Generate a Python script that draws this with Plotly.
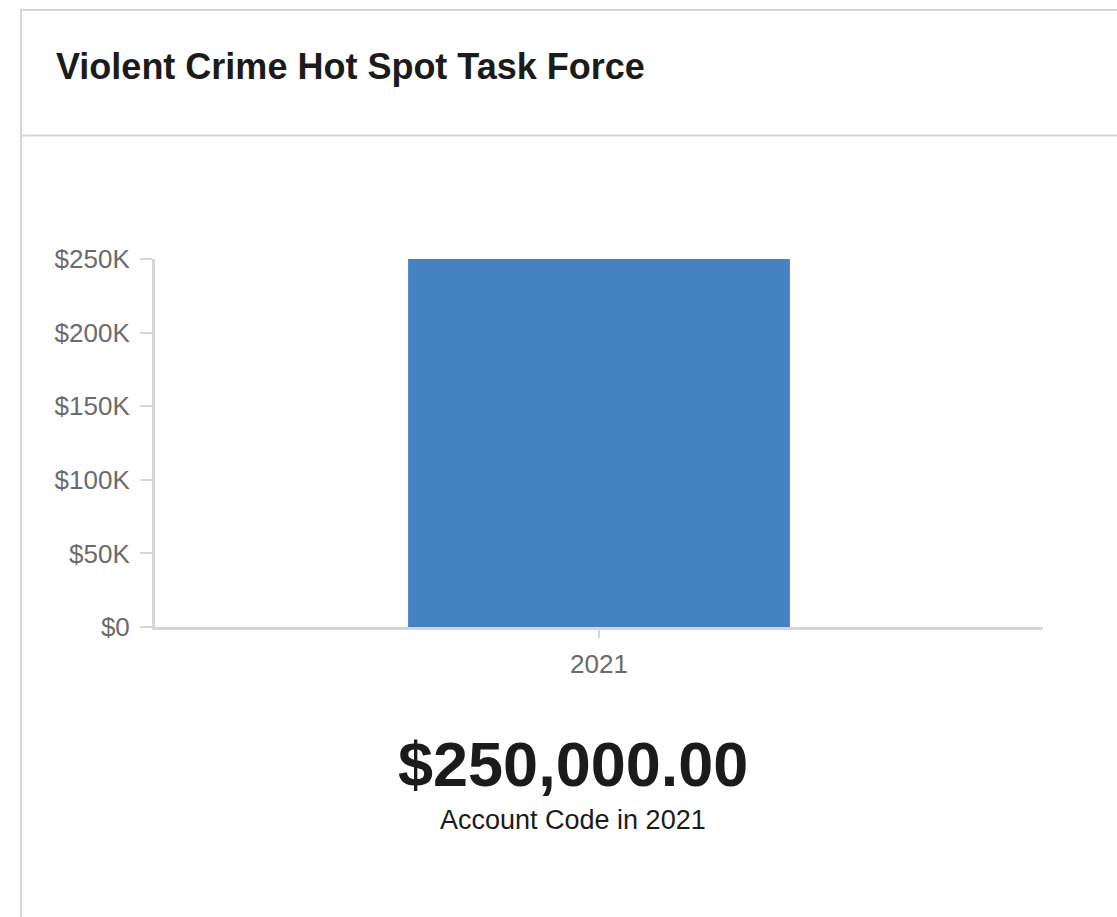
import plotly.graph_objects as go

# Data
years = ["2021"]
amounts = [250000]
tick_values = [0, 50000, 100000, 150000, 200000, 250000]
tick_labels = ["$0", "$50K", "$100K", "$150K", "$200K", "$250K"]
title_text = "Violent Crime Hot Spot Task Force"
total_text = "$250,000.00"
caption_text = "Account Code in 2021"

W, H = 1117, 917
L, R, T, B = 155, 74, 259, 290
PW, PH = W - L - R, H - T - B

def px(x):
    return (x - L) / PW

def py(y):
    return (H - B - y) / PH

FONT = "Liberation Sans, Arial, sans-serif"
BORDER = "#d3d7dd"

fig = go.Figure(
    go.Bar(
        x=years,
        y=amounts,
        width=0.43,
        marker=dict(color="#4682c1", line=dict(width=0)),
        hoverinfo="skip",
    )
)

fig.update_layout(
    width=W,
    height=H,
    margin=dict(l=L, r=R, t=T, b=B),
    paper_bgcolor="white",
    plot_bgcolor="white",
    showlegend=False,
    font=dict(family=FONT),
)

fig.update_yaxes(
    range=[0, 250000],
    tickvals=tick_values,
    ticktext=tick_labels,
    tickfont=dict(size=26, color="#6b6b6b", family=FONT),
    ticks="outside",
    ticklen=12,
    tickwidth=2,
    tickcolor=BORDER,
    showline=True,
    linecolor=BORDER,
    linewidth=3,
    showgrid=False,
    zeroline=False,
    ticklabelstandoff=5,
)
fig.update_xaxes(
    tickfont=dict(size=26, color="#6b6b6b", family=FONT),
    ticks="outside",
    ticklen=8,
    tickwidth=2,
    tickcolor=BORDER,
    showline=True,
    linecolor=BORDER,
    linewidth=3,
    showgrid=False,
    ticklabelstandoff=4,
)

# Card frame and header divider
fig.add_shape(type="line", xref="paper", yref="paper",
              x0=px(21), x1=px(21), y0=py(10), y1=py(H + 5),
              line=dict(color=BORDER, width=2))
fig.add_shape(type="line", xref="paper", yref="paper",
              x0=px(20), x1=px(W + 5), y0=py(10), y1=py(10),
              line=dict(color=BORDER, width=2))
fig.add_shape(type="line", xref="paper", yref="paper",
              x0=px(20), x1=px(W + 5), y0=py(135.5), y1=py(135.5),
              line=dict(color=BORDER, width=2))

# Header title
fig.add_annotation(text="<b>" + title_text + "</b>", xref="paper", yref="paper",
                   x=px(54), y=py(66), xanchor="left", yanchor="middle",
                   showarrow=False, font=dict(size=36, color="#1b1b1b", family=FONT))

# Summary figure under the chart
fig.add_annotation(text="<b>" + total_text + "</b>", xref="paper", yref="paper",
                   x=px(572.5), y=py(764), xanchor="center", yanchor="middle",
                   showarrow=False, font=dict(size=63, color="#1b1b1b", family=FONT))
fig.add_annotation(text=caption_text, xref="paper", yref="paper",
                   x=px(572.5), y=py(820), xanchor="center", yanchor="middle",
                   showarrow=False, font=dict(size=27, color="#1b1b1b", family=FONT))

fig.write_html("out.html")
